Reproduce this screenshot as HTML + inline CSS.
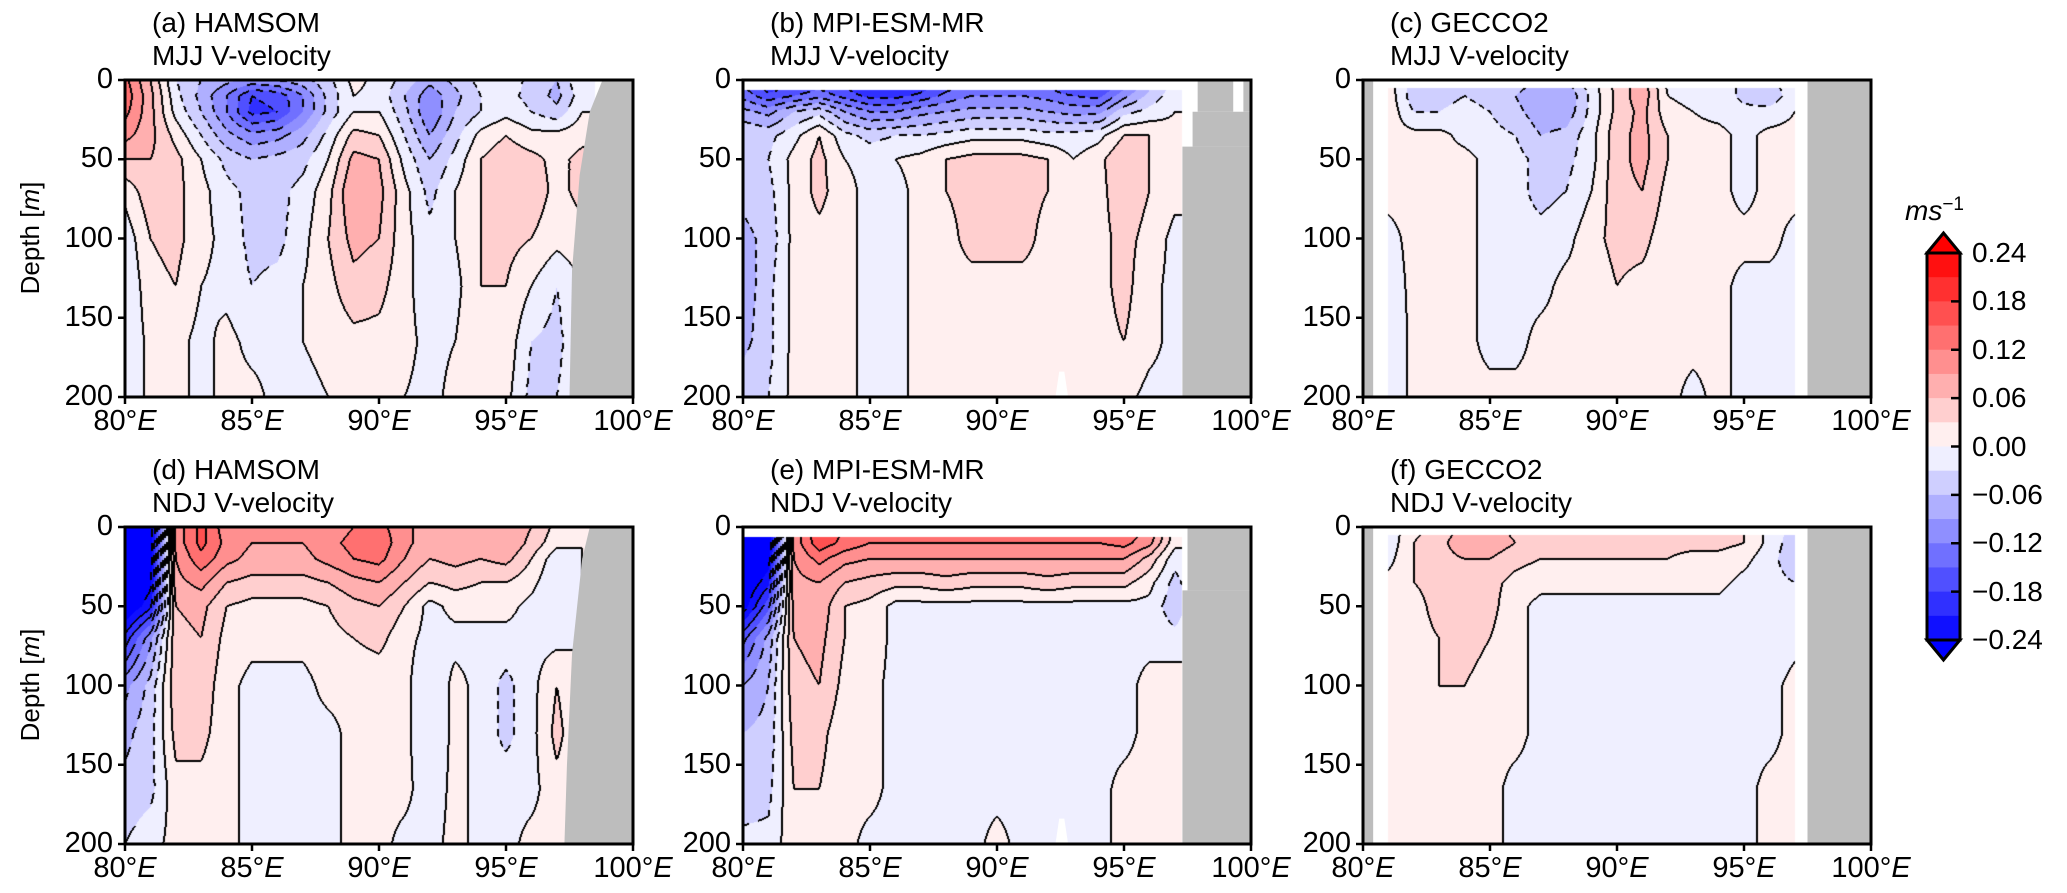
<!DOCTYPE html>
<html><head><meta charset="utf-8">
<style>
body{margin:0;background:#fff;width:2067px;height:893px;overflow:hidden;position:relative;font-family:"Liberation Sans",Arial,sans-serif;color:#000}
.t{position:absolute;font-size:27px;white-space:nowrap;line-height:1}
canvas{position:absolute}
svg{position:absolute;left:0;top:0}
</style></head><body>
<svg id="ov" width="2067" height="893"></svg>
<script>
const lons=[80,81,82,83,84,85,86,87,88,89,90,91,92,93,94,95,96,97,98];
const depths=[0,10,20,35,50,70,100,130,165,200];
const xTicks=[80,85,90,95,100];
const yTicks=[0,50,100,150,200];
const cbTicks=[0.24,0.18,0.12,0.06,0.00,-0.06,-0.12,-0.18,-0.24];
// values in cm/s
const fieldA=[
[13,6,-3,-6,-8,-10,-9,-7,-4,1,-1,-4,-8,-5,-2,-1,-4,-6,0],
[14,7,-2,-7,-12,-18,-17,-12,-5,0,-1,-6,-11,-7,-3,-2,-4,-7,-1],
[13,7,-1,-6,-12,-19,-18,-12,-5,0,0,-5,-12,-6,-3,-1,-3,-5,0],
[10,7,2,-3,-8,-11,-10,-7,-2,4,3,-3,-9,-4,1,3,1,1,2],
[6,6,4,0,-4,-6,-5,-4,0,7,6,-1,-6,-2,3,5,4,2,4],
[1,5,4,1,-2,-4,-4,-2,2,9,7,1,-4,0,3,5,5,2,4],
[-2,3,4,1,-1,-4,-4,-1,3,7,6,1,-2,0,3,4,3,1,2],
[-3,2,3,0,-1,-3,-2,0,2,5,4,1,-2,-1,3,3,0,-3,0],
[-3,1,1,-1,1,-1,-1,0,1,2,2,1,-1,0,3,2,-3,-4,0],
[-3,1,1,-1,1,1,-1,-1,0,1,2,0,-1,1,3,1,-4,-3,0]];
const fieldB=[
[-16,-22,-20,-18,-20,-24,-24,-22,-18,-15,-15,-15,-17,-21,-21,-15,-8,-2,0],
[-13,-17,-15,-13,-16,-19,-19,-17,-14,-12,-12,-12,-13,-15,-16,-10,-5,-1,0],
[-8,-10,-6,-4,-9,-12,-12,-10,-9,-8,-8,-8,-9,-10,-10,-4,-2,0,0],
[-3,-4,-1,3,-2,-4,-3,-3,-2,-1,-1,-1,-2,-2,-1,3,3,1,0],
[-3,-3,1,4,0,-1,0,1,3,4,4,4,3,0,2,6,3,1,0],
[-5,-4,1,4,1,-1,-1,1,3,4,4,4,3,1,2,5,3,1,0],
[-7,-5,1,2,1,-1,-1,1,2,4,4,4,2,1,2,4,2,-1,0],
[-8,-4,1,2,1,-1,-1,1,2,2,2,2,2,1,2,4,1,-1,0],
[-7,-4,1,2,1,-1,-1,1,1,1,1,1,1,1,2,3,1,-1,0],
[-4,-3,1,2,1,-1,-1,1,1,1,1,1,1,1,1,1,-1,-1,0]];
const fieldC=[
[0,1,-4,-3,-3,-2,-4,-6,-6,-1,4,8,-1,1,-1,-4,-4,-1,0],
[0,2,-5,-4,-3,-4,-6,-9,-9,-2,4,8,0,-1,-1,-4,-5,-1,0],
[0,2,-3,-3,-2,-3,-5,-8,-8,-2,4,7,1,0,-1,-2,-2,0,0],
[0,1,1,1,-1,-2,-3,-6,-5,-1,5,7,3,1,1,-1,1,1,0],
[0,1,1,1,1,-1,-2,-4,-4,-1,5,7,3,1,1,-1,1,1,0],
[0,1,1,1,1,-1,-2,-4,-3,0,5,6,2,1,1,-1,1,1,0],
[0,-1,1,1,1,-1,-2,-2,-1,2,4,4,1,1,1,1,1,-1,0],
[0,-2,1,1,1,-1,-1,-1,1,1,3,2,1,1,1,-1,-1,-1,0],
[0,-3,1,1,1,-1,-1,1,1,1,1,1,1,1,1,-1,-1,-1,0],
[0,-3,1,1,1,1,1,1,1,1,1,1,1,-1,1,-1,-1,-1,0]];
const fieldD=[
[-30,-27,10,16,10,9,9,9,10,12,13,10,7,8,7,9,6,2,0],
[-30,-27,10,16,11,9,9,9,11,13,14,10,7,9,7,9,5,1,0],
[-30,-26,9,14,10,8,8,8,10,12,13,9,6,7,6,7,3,-2,0],
[-30,-25,8,10,6,5,5,5,6,8,9,6,3,4,3,3,1,-3,0],
[-28,-22,6,7,3,2,2,2,3,5,6,3,-1,1,1,1,-1,-3,0],
[-20,-10,5,6,2,1,1,1,2,3,4,1,-1,-1,-1,-1,-1,-1,0],
[-10,-5,5,5,1,-1,-1,-1,1,1,1,1,-3,1,-1,-4,-1,3,0],
[-7,-4,4,4,1,-1,-1,-1,-1,1,1,1,-3,1,-1,-4,-1,4,0],
[-5,-4,2,2,1,-1,-1,-1,-1,1,1,1,-2,1,-1,-1,-1,2,0],
[-3,-1,1,1,1,-1,-1,-1,-1,1,1,-1,-1,1,-1,-1,1,1,0]];
const fieldE=[
[-30,-28,10,18,15,13,13,13,13,13,13,13,13,13,13,14,12,2,0],
[-30,-28,10,17,14,12,12,12,12,12,12,12,12,12,12,13,10,1,0],
[-30,-26,9,13,10,9,9,9,9,9,9,9,9,9,9,9,5,-2,0],
[-28,-22,8,9,6,5,4,4,5,4,4,4,5,4,4,4,1,-4,0],
[-26,-16,7,8,3,2,-1,-1,-1,-1,-1,-1,-1,-1,-1,-1,-1,-5,0],
[-16,-8,6,7,3,2,-1,-1,-1,-1,-1,-1,-1,-3,-1,-1,-1,-2,0],
[-9,-6,5,6,2,1,-1,-1,-1,-1,-1,-1,-1,-2,-1,-1,1,2,0],
[-6,-5,4,4,1,1,-1,-1,-3,-1,-1,-1,-1,-1,-1,-1,1,3,0],
[-5,-4,3,3,1,1,-1,-1,-1,-1,-1,-1,-1,-1,-1,1,1,1,0],
[-2,-2,2,2,1,-1,-1,-1,-1,-1,1,-1,-1,-1,-1,1,1,1,0]];
const fieldF=[
[0,-2,2,4,7,7,5,4,4,4,4,4,4,4,4,3,-1,-4,0],
[0,-2,3,5,8,8,6,4,4,4,4,5,4,4,4,3,-1,-5,0],
[0,-1,3,5,6,6,4,3,3,3,3,3,3,2,2,1,-2,-5,0],
[0,1,3,4,4,4,2,1,1,1,1,1,1,1,1,-1,-2,-3,0],
[0,1,2,4,4,4,1,-1,-1,-1,-1,-1,-1,-1,-1,-3,-3,-1,0],
[0,1,2,3,4,3,1,-1,-1,-1,-1,-1,-1,-1,-1,-3,-2,-1,0],
[0,1,1,3,3,2,1,-1,-1,-1,-1,-3,-1,-1,-1,-1,-1,1,0],
[0,1,1,1,1,1,1,-1,-1,-1,-1,-3,-1,-1,-1,-1,-1,1,0],
[0,1,1,1,1,1,-1,-1,-1,-1,-1,-1,-1,-1,-1,-1,1,1,0],
[0,1,1,1,1,1,-1,-1,-1,-1,-1,-1,-1,-1,-1,-1,1,1,0]];
const landA=[[98.8,0],[100,0],[100,200],[97.5,200],[97.6,120],[97.9,60],[98.3,20]];
const landD=[[98.3,0],[100,0],[100,200],[97.3,200],[97.4,150],[97.6,80],[98,20]];
const landB=[[[97.3,42],[100,42],[100,200],[97.3,200]],[[97.7,20],[100,20],[100,42],[97.7,42]],[[97.9,0],[99.3,0],[99.3,20],[97.9,20]],[[99.7,0],[100,0],[100,20],[99.7,20]]];
const landE=[[[97.5,0],[100,0],[100,40],[97.5,40]],[[97.3,40],[100,40],[100,200],[97.3,200]]];
const landC=[[[80,0],[80.4,0],[80.4,200],[80,200]],[[97.5,0],[100,0],[100,200],[97.5,200]]];

const panels=[
 {id:'a',t1:'(a) HAMSOM',t2:'MJJ V-velocity',x:125,y:80,f:fieldA,lo:80,hi:98.5,top:0,land:[landA]},
 {id:'b',t1:'(b) MPI-ESM-MR',t2:'MJJ V-velocity',x:743,y:80,f:fieldB,lo:80,hi:97.3,top:6,land:landB},
 {id:'c',t1:'(c) GECCO2',t2:'MJJ V-velocity',x:1363,y:80,f:fieldC,lo:81,hi:97,top:5,land:landC},
 {id:'d',t1:'(d) HAMSOM',t2:'NDJ V-velocity',x:125,y:527,f:fieldD,lo:80,hi:98.5,top:0,land:[landD]},
 {id:'e',t1:'(e) MPI-ESM-MR',t2:'NDJ V-velocity',x:743,y:527,f:fieldE,lo:80,hi:97.3,top:6,land:landE},
 {id:'f',t1:'(f) GECCO2',t2:'NDJ V-velocity',x:1363,y:527,f:fieldF,lo:81,hi:97,top:5,land:landC}];
const W=508,H=317;
function col(k){
  const c=Math.max(-8,Math.min(7,k));
  if(k>=8) return [255,0,0]; if(k<-8) return [0,0,255];
  const center=(c*3+1.5)/24; const v=Math.round(255*(1-Math.abs(center)));
  return center>0?[255,v,v]:[v,v,255];
}
function sample(f,lon,dep){
  let i=Math.min(lons.length-2,Math.max(0,Math.floor(lon-80)));
  let tx=(lon-lons[i])/(lons[i+1]-lons[i]);
  let j=0; while(j<depths.length-2&&dep>depths[j+1]) j++;
  let ty=(dep-depths[j])/(depths[j+1]-depths[j]);
  tx=Math.max(0,Math.min(1,tx)); ty=Math.max(0,Math.min(1,ty));
  const a=f[j][i],b=f[j][i+1],c=f[j+1][i],d=f[j+1][i+1];
  return (a*(1-tx)+b*tx)*(1-ty)+(c*(1-tx)+d*tx)*ty;
}
const NS='http://www.w3.org/2000/svg';
const ov=document.getElementById('ov');
function sv(tag,attrs,parent){const e=document.createElementNS(NS,tag);for(const k in attrs)e.setAttribute(k,attrs[k]);(parent||ov).appendChild(e);return e;}
function txt(x,y,s,cls,name){const d=document.createElement('div');d.className='t';d.style.left=x+'px';d.style.top=y+'px';d.innerHTML=s;
 
 
 document.body.appendChild(d);return d;}

panels.forEach(p=>{
  const cv=document.createElement('canvas');cv.width=W;cv.height=H;cv.style.left=p.x+'px';cv.style.top=p.y+'px';
  
  
  document.body.insertBefore(cv,ov);
  const ctx=cv.getContext('2d');const img=ctx.createImageData(W,H);const D=img.data;
  const lev=new Int16Array(W*H).fill(-999);
  for(let py=0;py<H;py++){const dep=(py+0.5)/H*200;
    for(let px=0;px<W;px++){const lon=80+(px+0.5)/W*20;const o=(py*W+px)*4;
      if(lon<p.lo||lon>p.hi||dep<p.top){D[o]=D[o+1]=D[o+2]=255;D[o+3]=255;continue;}
      const v=sample(p.f,lon,dep);const k=Math.floor(v/3);lev[py*W+px]=k;
      const c=col(k);D[o]=c[0];D[o+1]=c[1];D[o+2]=c[2];D[o+3]=255;}}
  function blk(px,py){if(px<0||py<0||px>=W||py>=H)return;const o=(py*W+px)*4;D[o]=D[o+1]=D[o+2]=0;}
  for(let py=0;py<H;py++)for(let px=0;px<W;px++){const k=lev[py*W+px];if(k===-999)continue;
    const nb=[[1,0],[0,1]];
    for(const [dx,dy] of nb){if(px+dx>=W||py+dy>=H)continue;const k2=lev[(py+dy)*W+px+dx];if(k2===-999||k2===k)continue;
      if(Math.max(k,k2)>8||Math.min(k,k2)<-9)continue;
      const edge=Math.max(k,k2)*3;
      if(edge<0&&((px+py)%14)>=8)continue;
      blk(px,py);blk(px+dx,py+dy);}}
  ctx.putImageData(img,0,0);
  const X=l=>p.x+(l-80)/20*W, Y=d=>p.y+d/200*H;
  p.land.forEach((poly,i)=>{const g=sv('polygon',{points:poly.map(q=>X(q[0])+','+Y(q[1])).join(' '),fill:'#bdbdbd'});
    
    });
  if(p.id==='b'||p.id==='e'){const w=sv('polygon',{points:[[92.3,200],[92.45,184],[92.65,184],[92.8,200]].map(q=>X(q[0])+','+Y(q[1])).join(' '),fill:'#fff'});
    
    }
  const fr=sv('rect',{x:p.x,y:p.y,width:W,height:H,fill:'none',stroke:'#000','stroke-width':3});
  
  
  xTicks.forEach(t=>{const l=sv('line',{x1:X(t),x2:X(t),y1:p.y+H,y2:p.y+H+7,stroke:'#000','stroke-width':2.5});
    
    
    const d=txt(X(t)-40,p.y+H+10,t+'°<i>E</i>','t','x-tick-label-'+p.id);d.style.width='80px';d.style.textAlign='center';d.style.fontSize='29px';});
  yTicks.forEach(t=>{const l=sv('line',{x1:p.x-7,x2:p.x,y1:Y(t),y2:Y(t),stroke:'#000','stroke-width':2.5});
    
    
    const d=txt(p.x-90,Y(t)-15,String(t),'t','y-tick-label-'+p.id);d.style.width='78px';d.style.textAlign='right';d.style.fontSize='29px';});
  const a=txt(p.x+27,p.y-71,p.t1,'t','panel-title-'+p.id);a.style.fontSize='28px';
  const b=txt(p.x+27,p.y-38,p.t2,'t','panel-subtitle-'+p.id);b.style.fontSize='28px';
});
[238,685].forEach((cy,i)=>{const d=txt(30-80,cy-13,'Depth [<i>m</i>]','t','y-axis-title');d.style.width='160px';d.style.textAlign='center';d.style.fontSize='26px';d.style.transform='rotate(-90deg)';});
const cbX=1927,cbW=33,cbT=253,cbB=640;const nb=16,bh=(cbB-cbT)/nb;
for(let i=0;i<nb;i++){const k=7-i;const c=col(k);const r=sv('rect',{x:cbX,y:cbT+i*bh,width:cbW,height:bh+0.5,fill:`rgb(${c})`});
  
  }
const tu=sv('polygon',{points:`${cbX},${cbT} ${cbX+cbW/2},${cbT-20} ${cbX+cbW},${cbT}`,fill:'#f00',stroke:'#000','stroke-width':3});


const td=sv('polygon',{points:`${cbX},${cbB} ${cbX+cbW/2},${cbB+20} ${cbX+cbW},${cbB}`,fill:'#00f',stroke:'#000','stroke-width':3});


const cf=sv('rect',{x:cbX,y:cbT,width:cbW,height:cbB-cbT,fill:'none',stroke:'#000','stroke-width':3});


cbTicks.forEach(v=>{const y=cbT+(0.24-v)/0.48*(cbB-cbT);
  const l=sv('line',{x1:cbX+cbW-9,x2:cbX+cbW,y1:y,y2:y,stroke:'#000','stroke-width':2.5});
  
  
  const d=txt(cbX+cbW+12,y-14,(v<0?'−':'')+Math.abs(v).toFixed(2),'t','colorbar-tick-label');d.style.fontSize='28px';});
const u=txt(1905,195,'<i>ms</i><sup style="font-size:19px;vertical-align:10px">−1</sup>','t','colorbar-units');u.style.fontSize='28px';
</script>
</body></html>
